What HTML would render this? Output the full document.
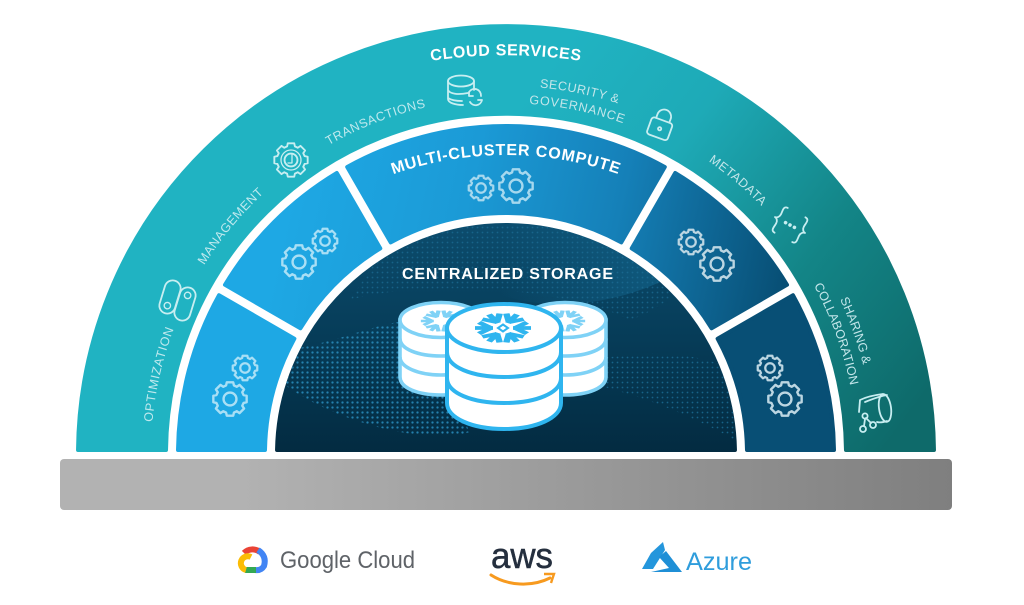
<!DOCTYPE html>
<html><head><meta charset="utf-8">
<style>
html,body{margin:0;padding:0;background:#fff;width:1024px;height:605px;overflow:hidden}
svg{display:block;font-family:"Liberation Sans",sans-serif}
.lb{font-size:12.5px;fill:#bfe9ee}
.lg{font-size:12.5px;fill:#c3e6ea}
.h{font-size:16px;font-weight:bold;fill:#fff}
.ic{fill:none;stroke:#c8eef1;stroke-width:1.8;stroke-linecap:round;stroke-linejoin:round}
</style></head>
<body>
<svg width="1024" height="605" viewBox="0 0 1024 605" xmlns="http://www.w3.org/2000/svg">
<defs>
<linearGradient id="gOut" gradientUnits="userSpaceOnUse" x1="500" y1="130" x2="900" y2="430">
<stop offset="0" stop-color="#20b3c2"/><stop offset=".3" stop-color="#1eaab7"/><stop offset=".65" stop-color="#138587"/><stop offset="1" stop-color="#0e6a6a"/></linearGradient>
<linearGradient id="gBlue" gradientUnits="userSpaceOnUse" x1="280" y1="230" x2="770" y2="340">
<stop offset="0" stop-color="#1ea8e4"/><stop offset=".35" stop-color="#1b9ad6"/><stop offset=".65" stop-color="#1580b8"/><stop offset="1" stop-color="#084f75"/></linearGradient>
<linearGradient id="gDark" gradientUnits="userSpaceOnUse" x1="506" y1="225" x2="506" y2="452">
<stop offset="0" stop-color="#0c4c6d"/><stop offset=".5" stop-color="#063c58"/><stop offset="1" stop-color="#032b41"/></linearGradient>
<linearGradient id="gBar" gradientUnits="userSpaceOnUse" x1="240" y1="0" x2="952" y2="0">
<stop offset="0" stop-color="#b2b2b2"/><stop offset="1" stop-color="#7f7f7f"/></linearGradient>
<linearGradient id="gSw" gradientUnits="userSpaceOnUse" x1="500" y1="0" x2="690" y2="0">
<stop offset="0" stop-color="#1a7fae" stop-opacity="0"/><stop offset="1" stop-color="#1a7fae" stop-opacity=".4"/></linearGradient>
<pattern id="dots" width="5" height="5" patternUnits="userSpaceOnUse"><circle cx="2.5" cy="2.5" r="1.15" fill="#2a8fc0"/></pattern>
<pattern id="dots2" width="5" height="5" patternUnits="userSpaceOnUse"><circle cx="2.5" cy="2.5" r=".9" fill="#1c6f98"/></pattern>
<clipPath id="dome"><path d="M275.010 452A231 231 0 0 1 736.990 452Z"/></clipPath>
<path id="r355" d="M151 454A355 355 0 0 1 861 454"/>
<path id="r356" d="M150 454A356 356 0 0 1 862 454"/>
<path id="r368" d="M138 454A368 368 0 0 1 874 454"/>
<path id="r351" d="M155 454A351 351 0 0 1 857 454"/>
<path id="hCloud" d="M306 97A500 500 0 0 1 706 97"/>
<path id="hMulti" d="M270.300 250A340 340 0 0 1 741.700 250"/>
<g id="gear"><path d="M98-19L98 19L80 23L72 40L83 56L56 83L40 72L23 80L19 98L-19 98L-23 80L-40 72L-56 83L-83 56L-72 40L-80 23L-98 19L-98-19L-80-23L-72-40L-83-56L-56-83L-40-72L-23-80L-19-98L19-98L23-80L40-72L56-83L83-56L72-40L80-23Z" fill="none" stroke-linejoin="round"/><circle r="38" fill="none"/></g>
<g id="arm"><path d="M10 0H28M12 0L24-10M12 0L24 10" fill="none" stroke-linecap="butt"/></g>
<g id="flake"><g transform="scale(1,.56)"><use href="#arm"/><use href="#arm" transform="rotate(60)"/><use href="#arm" transform="rotate(120)"/><use href="#arm" transform="rotate(180)"/><use href="#arm" transform="rotate(240)"/><use href="#arm" transform="rotate(300)"/></g></g>
</defs>

<!-- bands -->
<path d="M78.020 450A428 428 0 0 1 933.980 450L845.980 450A340 340 0 0 0 166.020 450Z" fill="url(#gOut)" stroke="url(#gOut)" stroke-width="4" stroke-linejoin="round"/>
<g fill="url(#gBlue)" stroke="url(#gBlue)" stroke-width="4" stroke-linejoin="round">
<path d="M178 450A328 328 0 0 1 219 295.2L294.4 338.7A241 241 0 0 0 265 450Z" fill="#1ea8e4" stroke="#1ea8e4"/>
<path d="M225 284.8A328 328 0 0 1 336.8 173L380.3 248.4A241 241 0 0 0 300.4 328.3Z"/>
<path d="M347.2 167A328 328 0 0 1 664.8 167L621.3 242.4A241 241 0 0 0 390.7 242.4Z"/>
<path d="M675.2 173A328 328 0 0 1 787 284.8L711.6 328.3A241 241 0 0 0 631.7 248.4Z"/>
<path d="M793 295.2A328 328 0 0 1 834 450L747 450A241 241 0 0 0 717.6 338.7Z" fill="#084f75" stroke="#084f75"/>
</g>
<path d="M277.035 450A229 229 0 0 1 734.965 450Z" fill="url(#gDark)" stroke="url(#gDark)" stroke-width="4" stroke-linejoin="round"/>

<!-- dot waves -->
<g clip-path="url(#dome)">
<path d="M500 295C570 318 660 295 710 250L640 215L500 215Z" fill="url(#gSw)"/>
<path d="M350 300C420 280 560 285 630 320C660 310 680 290 700 270L620 225L400 225Z" fill="url(#dots2)" opacity=".7"/>
<path d="M285 350C330 345 370 325 410 320L470 432C430 445 340 425 285 385Z" fill="url(#dots)" opacity=".85"/>
<path d="M595 385C640 395 690 415 735 440L735 370C690 350 640 350 595 360Z" fill="url(#dots2)" opacity=".8"/>
</g>

<!-- gray bar -->
<rect x="60" y="459" width="892" height="51" rx="4" fill="url(#gBar)"/>

<!-- headings -->
<text class="h" text-anchor="middle" letter-spacing=".6"><textPath href="#hCloud" startOffset="50%">CLOUD SERVICES</textPath></text>
<text class="h" text-anchor="middle" letter-spacing=".8"><textPath href="#hMulti" startOffset="50%">MULTI-CLUSTER COMPUTE</textPath></text>
<text class="h" x="402" y="279" textLength="211" lengthAdjust="spacing">CENTRALIZED STORAGE</text>

<!-- arc labels -->
<text class="lb" text-anchor="middle" letter-spacing=".6"><textPath href="#r356" startOffset="38.1%">TRANSACTIONS</textPath></text>
<text class="lb" text-anchor="middle" letter-spacing=".45"><textPath href="#r356" startOffset="22%">MANAGEMENT</textPath></text>
<text class="lb" text-anchor="middle" letter-spacing=".7"><textPath href="#r355" startOffset="7.2%">OPTIMIZATION</textPath></text>
<text class="lg" text-anchor="middle" letter-spacing=".55"><textPath href="#r368" startOffset="56.4%">SECURITY &amp;</textPath></text>
<text class="lg" text-anchor="middle" letter-spacing=".8"><textPath href="#r351" startOffset="56.5%">GOVERNANCE</textPath></text>
<text class="lg" text-anchor="middle" letter-spacing=".6"><textPath href="#r356" startOffset="72.4%">METADATA</textPath></text>
<text class="lg" text-anchor="middle" letter-spacing=".1"><textPath href="#r368" startOffset="89.2%">SHARING &amp;</textPath></text>
<text class="lg" text-anchor="middle" letter-spacing=".1"><textPath href="#r351" startOffset="88.9%">COLLABORATION</textPath></text>

<!-- gears -->
<g stroke="#a9dff5">
<use href="#gear" transform="translate(245,368) scale(.125)" stroke-width="18"/>
<use href="#gear" transform="translate(230,399) scale(.17)" stroke-width="14"/>
<use href="#gear" transform="translate(325,241) scale(.125)" stroke-width="18"/>
<use href="#gear" transform="translate(299,262) scale(.17)" stroke-width="14"/>
</g>
<g stroke="#a6d8ee">
<use href="#gear" transform="translate(481,188) scale(.125)" stroke-width="18"/>
<use href="#gear" transform="translate(516,186) scale(.17)" stroke-width="14"/>
</g>
<g stroke="#bcd6e2">
<use href="#gear" transform="translate(691,242) scale(.125)" stroke-width="18"/>
<use href="#gear" transform="translate(717,264) scale(.17)" stroke-width="14"/>
<use href="#gear" transform="translate(770,368) scale(.125)" stroke-width="18"/>
<use href="#gear" transform="translate(785,399) scale(.17)" stroke-width="14"/>
</g>

<!-- management clock gear -->
<g stroke="#c8eef1">
<use href="#gear" transform="translate(291,160) scale(.17)" stroke-width="11"/>
</g>
<g class="ic"><circle cx="291" cy="160" r="10" stroke-width="1.3"/><path d="M292 154V163L288 163" stroke-width="1.3"/></g>

<!-- db icon -->
<g class="ic">
<ellipse cx="461" cy="81" rx="13" ry="5.5"/>
<path d="M448 81V99C448 103 456 105 463 105M474 81V90M448 90C450 94 458 95 468 93M448 98C451 100 456 101 462 101"/>
<path d="M469 92A6.5 6.5 0 0 1 481 96M482 100A6.5 6.5 0 0 1 470 102M469 92V96H473M482 100H478"/>
</g>
<!-- lock -->
<g class="ic" transform="translate(661,125) rotate(20)">
<rect x="-11" y="-5" width="22" height="18" rx="3"/>
<path d="M-7-5V-9A7 7 0 0 1 7-9V-5"/><circle cx="0" cy="4" r="1.6"/>
</g>
<!-- braces -->
<g class="ic" transform="translate(790,225) rotate(28)">
<path d="M-10-14C-15-14-13-9-13-5C-13-2-15 0-17 0C-15 0-13 2-13 5C-13 9-15 14-10 14M10-14C15-14 13-9 13-5C13-2 15 0 17 0C15 0 13 2 13 5C13 9 15 14 10 14"/>
<circle cx="-5" cy="0" r=".9" fill="#c8eef1"/><circle cx="0" cy="0" r=".9" fill="#c8eef1"/><circle cx="5" cy="0" r=".9" fill="#c8eef1"/>
</g>
<!-- toggles -->
<g class="ic">
<g transform="translate(170,297) rotate(17)"><rect x="-8" y="-17" width="16" height="34" rx="8"/><circle cx="0" cy="9" r="3.2" stroke-width="1.4"/></g>
<g transform="translate(185,304) rotate(17)"><rect x="-8" y="-17" width="16" height="34" rx="8"/><circle cx="0" cy="-9" r="3.2" stroke-width="1.4"/></g>
</g>
<!-- sharing icon -->
<g class="ic">
<ellipse cx="885" cy="408" rx="6" ry="14" transform="rotate(-8 885 408)"/>
<path d="M883 394C875 395 866 397 860 400L859 412M887 395C880 396 870 400 865 402M877 422C880 423 884 422 887 421"/>
<circle cx="865" cy="416" r="2.6"/><circle cx="863" cy="429" r="3"/><circle cx="873" cy="425" r="3"/>
<path d="M865 419L864 426M866 418L871 423"/>
</g>

<!-- back cylinders -->
<g fill="#fff" stroke="#7fd2f6" stroke-width="3.6">
<path d="M400 320V377C400 388 418 395 441 395C464 395 482 388 482 377V320Z"/>
<path d="M400 338.5C400 349 418 356 441 356C464 356 482 349 482 338.5M400 357C400 367 418 375 441 375C464 375 482 367 482 357" fill="none"/>
<ellipse cx="441" cy="320" rx="41" ry="17.5"/>
<path d="M524 320V377C524 388 542 395 565 395C588 395 606 388 606 377V320Z"/>
<path d="M524 338.5C524 349 542 356 565 356C588 356 606 349 606 338.5M524 357C524 367 542 375 565 375C588 375 606 367 606 357" fill="none"/>
<ellipse cx="565" cy="320" rx="41" ry="17.5"/>
</g>
<use href="#flake" transform="translate(441,321) scale(.72)" stroke="#7fd2f6" stroke-width="6"/>
<use href="#flake" transform="translate(565,321) scale(.72)" stroke="#7fd2f6" stroke-width="6"/>

<!-- front cylinder -->
<g fill="#fff" stroke="#2fb5ef" stroke-width="4">
<path d="M447 328V403C447 418 472 429 504 429C536 429 561 418 561 403V328Z"/>
<path d="M447 352C447 367 472 377 504 377C536 377 561 367 561 352M447 378C447 393 472 403 504 403C536 403 561 393 561 378" fill="none"/>
<ellipse cx="504" cy="328" rx="57" ry="24"/>
</g>
<use href="#flake" transform="translate(503,328)" stroke="#2fb5ef" stroke-width="6.5"/>
<path d="M503 324.500L508 328L503 331.500L498 328Z" fill="#fff" stroke="#2fb5ef" stroke-width="2"/>

<!-- logos -->
<g fill="none" stroke-width="6">
<path d="M244 553A12 12 0 0 1 260 552" stroke="#ea4335"/>
<path d="M258 550Q267 556 264 566Q261 571 255 570" stroke="#4285f4"/>
<path d="M256 570H245" stroke="#34a853"/>
<path d="M251 557A7 7 0 1 0 246 570" stroke="#fbbc05"/>
</g>
<text x="280" y="568" font-size="24" fill="#5f6368" textLength="135" lengthAdjust="spacingAndGlyphs">Google Cloud</text>
<text x="491" y="568" font-size="36" fill="#252f3e" stroke="#252f3e" stroke-width=".5" textLength="62" lengthAdjust="spacingAndGlyphs">aws</text>
<path d="M491 575C508 586 532 587 550 578" fill="none" stroke="#f79a1f" stroke-width="3" stroke-linecap="round"/>
<path d="M544 574L554 574L551 583" fill="none" stroke="#f79a1f" stroke-width="2.4"/>
<path d="M663 542L651 553L642 569H653L665 550Z" fill="#2496dc"/>
<path d="M666 551L682 572H651L669 568L659 557Z" fill="#1f8fd6"/>
<text x="686" y="570" font-size="25" fill="#2f9ddc" textLength="66" lengthAdjust="spacingAndGlyphs">Azure</text>
</svg>
</body></html>
